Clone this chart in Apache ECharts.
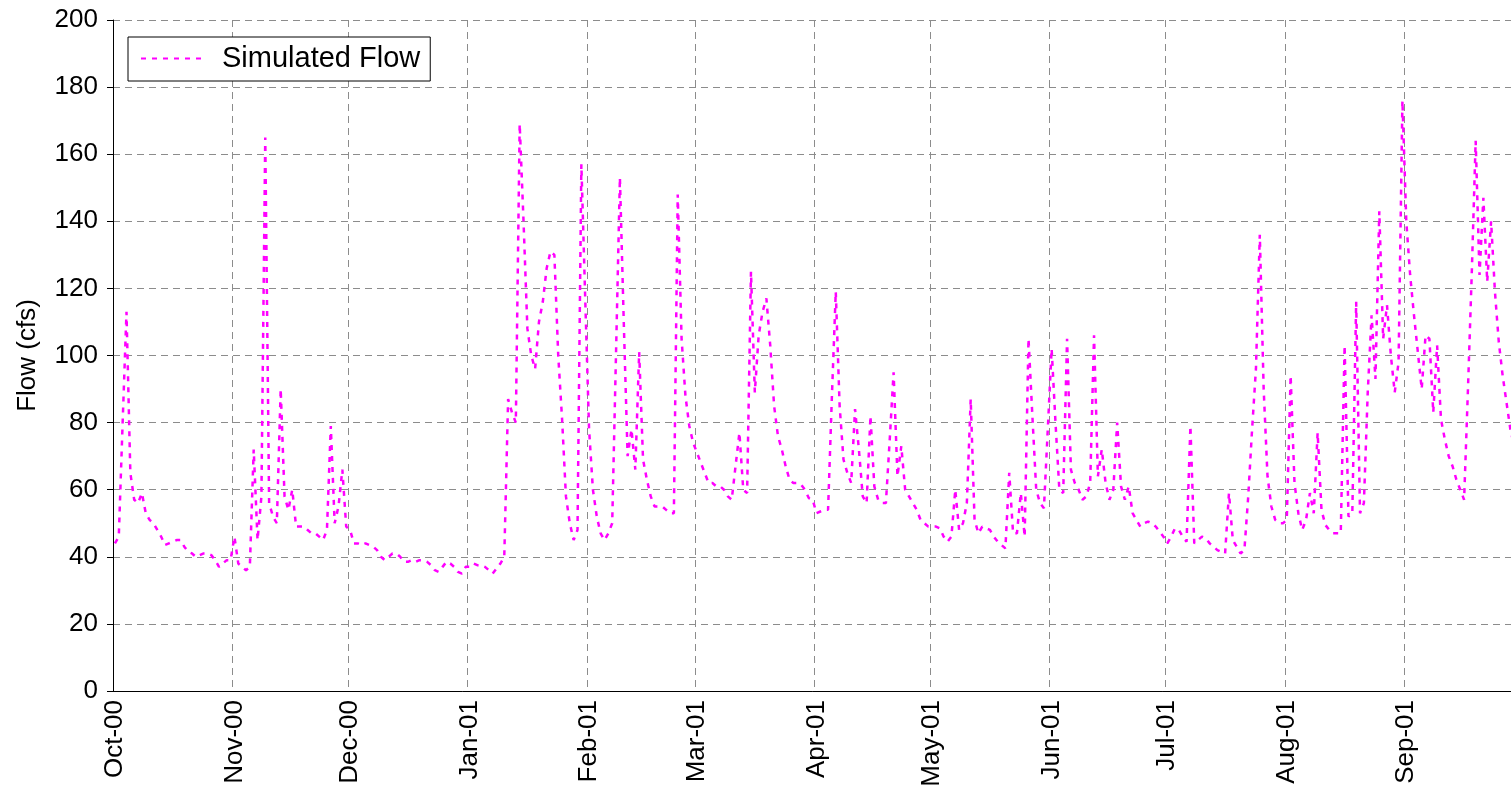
<!DOCTYPE html>
<html>
<head>
<meta charset="utf-8">
<title>Simulated Flow</title>
<script src="https://cdn.jsdelivr.net/npm/echarts@6/dist/echarts.min.js"></script>
<style>
  html, body { margin: 0; padding: 0; background: #fff; }
  #chart { width: 1511px; height: 791px; }
</style>
</head>
<body>
<div id="chart"></div>
<script>
// daily simulated flow (cfs), water year Oct 2000 - Sep 2001
var oct = [44, 46, 80, 113, 65, 57, 56, 59, 53, 51, 50, 48, 46, 43.5, 44, 44.5, 45, 45, 43, 41.5, 41, 40, 40.5, 41, 41, 40.5, 39, 37, 38, 39, 39];
var nov = [46, 38, 37, 36, 37, 72, 45, 58, 165, 56, 52, 50, 90, 58, 54, 60, 49, 49, 49, 48, 47, 47, 46, 45, 48, 79, 50, 55, 66, 49];
var dec = [48, 44, 44, 43.5, 44, 43.5, 43, 42, 40, 39, 40, 41, 41, 40, 38.5, 38.5, 39, 38.5, 39, 39, 38.5, 37.5, 36, 35.5, 37, 38.5, 38, 37, 35.5, 35, 37];
var jan = [37, 38, 37.5, 37.5, 37, 36, 35, 36.5, 38, 40, 87, 83, 80, 169, 140, 108, 100, 96, 110, 116, 126, 131, 130, 100, 81, 58, 50, 45, 48, 157, 117];
var feb = [78, 60, 52, 47, 45, 47, 50, 101, 153, 110, 70, 78, 66, 101, 69, 63, 58, 55, 55, 55, 54, 53, 53, 148, 105, 88, 79, 74];
var mar = [71, 68, 65, 62, 62, 61, 61, 60, 58, 57, 67, 77, 60, 59, 125, 89, 106, 113, 117, 103, 85, 76, 72, 67, 63, 62, 62, 61.5, 60, 57.5, 57];
var apr = [53, 53.5, 54, 54, 88, 119, 85, 69, 65, 62, 84, 72, 58, 56, 82, 61, 57, 56, 56, 75, 95, 64, 73, 60, 58, 56, 54, 51, 50, 49];
var may = [49, 49, 48.5, 46, 44.5, 46, 60, 48, 50, 56, 87, 51, 47, 49, 48.5, 48, 46, 44.5, 43.5, 42.5, 65, 47, 47, 59, 46, 105, 82, 60, 56, 54.5, 78];
var jun = [102, 80, 60, 59, 105, 66, 62, 60, 57, 58, 62, 106, 64, 72, 62, 57, 60, 80, 61, 57, 61, 53, 51, 49, 50, 50.5, 50, 49, 47.5, 46];
var jul = [44, 46, 48.5, 48, 46, 44.5, 79, 44, 45, 46, 45.5, 44, 43, 42, 41.5, 41, 59, 45, 43, 41, 42, 58, 78, 96, 136, 90, 64, 55, 51, 50, 50];
var aug = [51, 94, 62, 53, 48, 51, 59, 53, 77, 54, 49.5, 48, 47, 47, 47, 103, 52, 53, 116, 53, 56, 89, 112, 93, 143, 105, 115, 100, 89, 98, 176];
var sep = [140, 124, 112, 101, 90, 106, 105, 83, 103, 81, 75, 70, 67, 63, 60, 57, 90, 125, 164, 124, 147, 122, 140, 119, 104, 94, 86, 78, 73, 69];

var monthLabels = ['Oct-00', 'Nov-00', 'Dec-00', 'Jan-01', 'Feb-01', 'Mar-01',
                   'Apr-01', 'May-01', 'Jun-01', 'Jul-01', 'Aug-01', 'Sep-01'];
var monthData = [oct, nov, dec, jan, feb, mar, apr, may, jun, jul, aug, sep];

var days = [], flow = [], monthStart = {};
monthData.forEach(function (arr, m) {
  monthStart[days.length] = monthLabels[m];
  arr.forEach(function (v, d) {
    days.push(monthLabels[m] + ' ' + (d + 1));
    flow.push(v);
  });
});

function isMonthStart(i) { return monthStart.hasOwnProperty(i); }

var font = 'Liberation Sans, Arial, sans-serif';
var chart = echarts.init(document.getElementById('chart'));

chart.setOption({
  animation: false,
  backgroundColor: '#fff',
  grid: { left: 113, right: -9, top: 20, bottom: 100, outerBoundsMode: 'none' },
  legend: {
    left: 128, top: 37,
    backgroundColor: '#fff',
    borderColor: '#000', borderWidth: 1,
    padding: [7, 10, 8, 12],
    itemWidth: 66, itemHeight: 14,
    itemStyle: { color: 'rgba(0,0,0,0)', borderColor: 'rgba(0,0,0,0)', borderWidth: 0 },
    textStyle: { fontFamily: font, fontSize: 29, color: '#000', padding: [0, 0, 0, 10] },
    data: ['Simulated Flow']
  },
  xAxis: {
    type: 'category',
    data: days,
    boundaryGap: true,
    axisLine: { lineStyle: { color: '#000', width: 1 } },
    axisTick: { interval: isMonthStart, length: 6, lineStyle: { color: '#000' } },
    axisLabel: {
      interval: isMonthStart,
      rotate: 90,
      margin: 9,
      color: '#000',
      fontFamily: font,
      fontSize: 26,
      formatter: function (v, i) { return monthStart[i]; }
    },
    splitLine: {
      show: true,
      interval: isMonthStart,
      lineStyle: { color: '#8c8c8c', width: 1, type: [7, 5] }
    }
  },
  yAxis: {
    type: 'value',
    min: 0, max: 200, interval: 20,
    name: 'Flow (cfs)',
    nameLocation: 'middle',
    nameGap: 72,
    nameTextStyle: { fontFamily: font, fontSize: 26, color: '#000' },
    axisLine: { show: true, lineStyle: { color: '#000', width: 1 } },
    axisTick: { show: true, length: 6, lineStyle: { color: '#000' } },
    axisLabel: { color: '#000', fontFamily: font, fontSize: 26, margin: 15 },
    splitLine: { lineStyle: { color: '#8c8c8c', width: 1, type: [7, 5] } }
  },
  series: [{
    name: 'Simulated Flow',
    type: 'line',
    data: flow,
    symbol: 'none',
    itemStyle: { color: '#ff00ff' },
    lineStyle: { color: '#ff00ff', width: 2.5, type: [5, 6] }
  }]
});
</script>
</body>
</html>
